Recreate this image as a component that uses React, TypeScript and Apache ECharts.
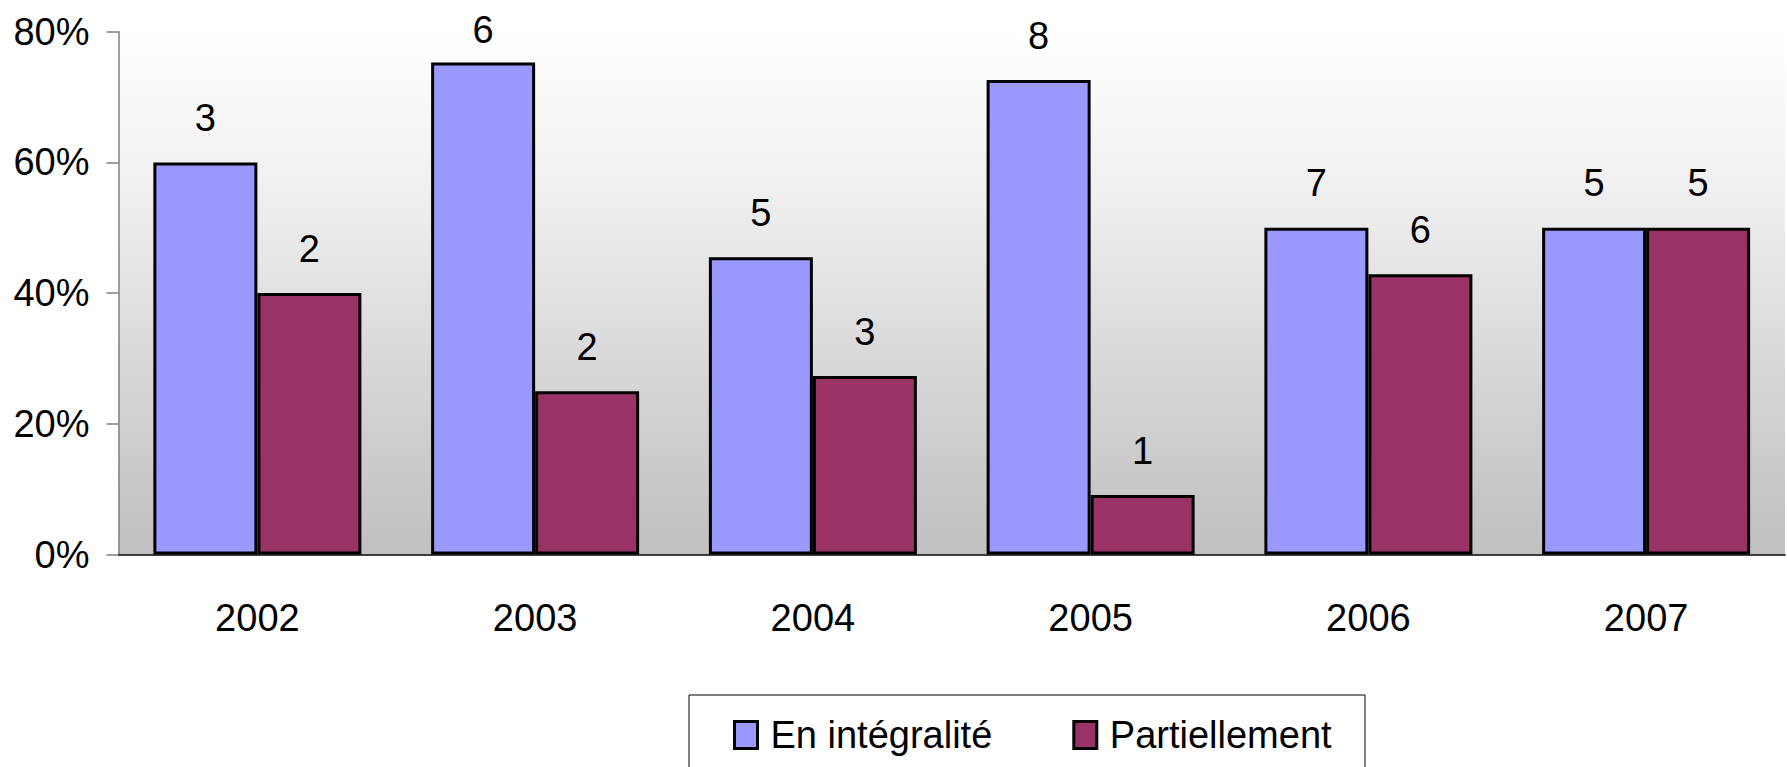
import React, { useEffect, useRef } from "react";
import * as echarts from "echarts";

const categories = ["2002", "2003", "2004", "2005", "2006", "2007"];
const integraliteValues = [60, 75.3, 45.5, 72.6, 50, 50];
const partielValues = [40, 25, 27.3, 9.1, 42.9, 50];
const integraliteCounts = [3, 6, 5, 8, 7, 5];
const partielCounts = [2, 2, 3, 1, 6, 5];
const seriesNames = ["En intégralité", "Partiellement"];

const FONT = "'Liberation Sans', Arial, sans-serif";
const Y_MAX = 80;

export default function App() {
  const ref = useRef<HTMLDivElement>(null);
  useEffect(() => {
    if (!ref.current) return;
    const chart = echarts.init(ref.current, null, { renderer: "svg" });
    const labelStyle = {
      show: true,
      position: "top",
      distance: 25.5,
      color: "#000",
      fontSize: 38,
      fontFamily: FONT,
    };
    // labels of bars reaching near the top of the plot are pulled closer to the bar
    const toData = (vals: number[]) =>
      vals.map((v) => (v > Y_MAX - 6 ? { value: v, label: { distance: 13 } } : { value: v }));
    chart.setOption({
      animation: false,
      textStyle: { fontFamily: FONT },
      grid: {
        left: 118.5,
        right: 2,
        top: 31.7,
        bottom: 212.5,
        show: true,
        borderWidth: 0,
        backgroundColor: new echarts.graphic.LinearGradient(0, 0, 0, 1, [
          { offset: 0, color: "#ffffff" },
          { offset: 0.3, color: "#f0f0f0" },
          { offset: 0.75, color: "#d0d0d0" },
          { offset: 1, color: "#c0c0c0" },
        ]),
      },
      graphic: [
        {
          type: "rect",
          shape: { x: 689, y: 695, width: 676, height: 120 },
          style: { fill: "#fff", stroke: "#000", lineWidth: 1 },
          z: -1,
        },
      ],
      legend: {
        left: 733,
        top: 716,
        padding: 0,
        itemWidth: 23,
        itemHeight: 27,
        itemGap: 80,
        icon: "rect",
        data: seriesNames,
        textStyle: {
          fontSize: 38,
          fontFamily: FONT,
          color: "#000",
          padding: [0, 0, 0, 8],
        },
        itemStyle: { borderColor: "#000", borderWidth: 3 },
      },
      xAxis: {
        type: "category",
        data: categories,
        axisLine: { lineStyle: { color: "#000", width: 1.5 } },
        axisTick: { length: 14, lineStyle: { color: "#808080", width: 1.5 } },
        axisLabel: { color: "#000", fontSize: 38, fontFamily: FONT, margin: 44 },
      },
      yAxis: {
        type: "value",
        min: 0,
        max: Y_MAX,
        interval: 20,
        axisLine: { show: true, lineStyle: { color: "#808080", width: 1.5 } },
        axisTick: { show: true, length: 12, lineStyle: { color: "#808080", width: 1.5 } },
        splitLine: { show: false },
        axisLabel: {
          color: "#000",
          fontSize: 38,
          fontFamily: FONT,
          margin: 29,
          formatter: "{value}%",
        },
      },
      series: [
        {
          name: seriesNames[0],
          type: "bar",
          data: toData(integraliteValues),
          barWidth: 104,
          barGap: "0%",
          itemStyle: { color: "#9999ff", borderColor: "#000", borderWidth: 3 },
          label: { ...labelStyle, formatter: (p: any) => String(integraliteCounts[p.dataIndex]) },
        },
        {
          name: seriesNames[1],
          type: "bar",
          data: toData(partielValues),
          barWidth: 104,
          barGap: "0%",
          itemStyle: { color: "#993366", borderColor: "#000", borderWidth: 3 },
          label: { ...labelStyle, formatter: (p: any) => String(partielCounts[p.dataIndex]) },
        },
      ],
    });
    return () => chart.dispose();
  }, []);
  return (
    <div
      ref={ref}
      style={{ position: "fixed", left: 0, top: 0, width: 1787, height: 767, background: "#fff" }}
    />
  );
}
